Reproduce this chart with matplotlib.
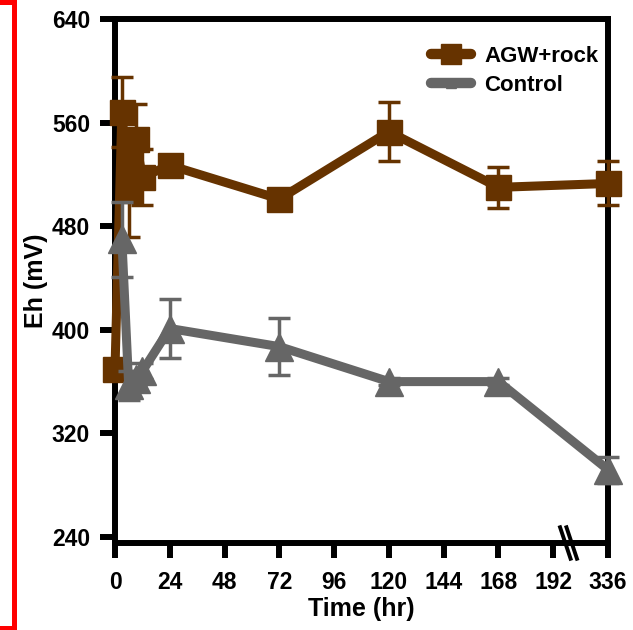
import matplotlib
matplotlib.use("Agg")
import matplotlib.pyplot as plt
from matplotlib.lines import Line2D
import matplotlib.transforms as mtransforms

plt.rcParams['font.family'] = ['Liberation Sans', 'DejaVu Sans']
plt.rcParams['font.weight'] = 'bold'

# data
agw_time = [0, 3, 6, 9, 12, 24, 72, 120, 168, 336]
agw_eh = [370, 568, 508, 547, 518, 527, 501, 553, 510, 513]
agw_err = [0, 27, 36, 27, 22, 7, 3, 23, 16, 17]

ctrl_time = [3, 6, 9, 12, 24, 72, 120, 168, 336]
ctrl_eh = [470, 357, 362, 368, 401, 387, 360, 360, 292]
ctrl_err = [29, 11, 6, 6, 23, 22, 3, 3, 10]

xtick_hours = [0, 24, 48, 72, 96, 120, 144, 168, 192, 336]
yticks = [240, 320, 400, 480, 560, 640]

BROWN = '#663300'
GREY = '#666666'


def broken(t):
    # axis is broken after 192 h, 336 h drawn one step further on
    return [h if h <= 192 else 216 for h in t]


fig = plt.figure(figsize=(6.33, 6.30), dpi=100)
ax = fig.add_axes([115 / 633, 1 - 543 / 630, 493 / 633, 524 / 630])

ax.errorbar(broken(agw_time), agw_eh, yerr=agw_err, color=BROWN, lw=6.5,
            marker='s', ms=18, elinewidth=2.5, capsize=8, capthick=2.5,
            solid_capstyle='round', solid_joinstyle='round',
            clip_on=False, zorder=3)
ax.errorbar(broken(ctrl_time), ctrl_eh, yerr=ctrl_err, color=GREY, lw=6.5,
            marker='^', ms=20, elinewidth=2.5, capsize=8, capthick=2.5,
            solid_capstyle='round', solid_joinstyle='round',
            clip_on=False, zorder=4)

ax.set_xlim(0, 216)
ax.set_ylim(240 - 6 / 1.295, 640)
ax.set_xticks(broken(xtick_hours))
ax.set_xticklabels([str(h) for h in xtick_hours])
ax.set_yticks(yticks)

for s in ax.spines.values():
    s.set_linewidth(4.3)
ax.tick_params(axis='both', direction='out', length=11, width=4.3,
               labelsize=16.5, pad=7)
ax.tick_params(axis='x', pad=9)
for lab in ax.get_xticklabels() + ax.get_yticklabels():
    lab.set_fontweight('bold')

ax.set_xlabel('Time (hr)', fontsize=18, fontweight='bold', labelpad=2)
ax.set_ylabel('Eh (mV)', fontsize=18, fontweight='bold', labelpad=3)

# break marks on the x axis
trans = mtransforms.blended_transform_factory(ax.transData, ax.transAxes)
for x0 in (195.0, 197.8):
    ax.add_line(Line2D([x0, x0 + 4.6], [0.03, -0.03], transform=trans,
                       color='black', lw=2.8, clip_on=False, zorder=5))

# legend handles without error bars, like the original
handles = [
    Line2D([], [], color=BROWN, lw=7.5, marker='s', ms=14,
           solid_capstyle='round'),
    Line2D([], [], color=GREY, lw=7.5, marker='^', ms=7,
           solid_capstyle='round'),
]
ax.legend(handles, ['AGW+rock', 'Control'], loc='upper right',
          bbox_to_anchor=(1.012, 0.978), frameon=False, fontsize=16,
          handlelength=1.8, handletextpad=0.6, labelspacing=0.35,
          borderaxespad=0.3)

# red bracket at the left edge of the reference image
fig.add_artist(Line2D([0, 13.5 / 633, 13.5 / 633, 0],
                      [1 - 1.5 / 630, 1 - 1.5 / 630, 1 - 628 / 630, 1 - 628 / 630],
                      transform=fig.transFigure, color='#ff0000', lw=3.6,
                      solid_joinstyle='miter'))

fig.savefig('out.png', dpi=100)
